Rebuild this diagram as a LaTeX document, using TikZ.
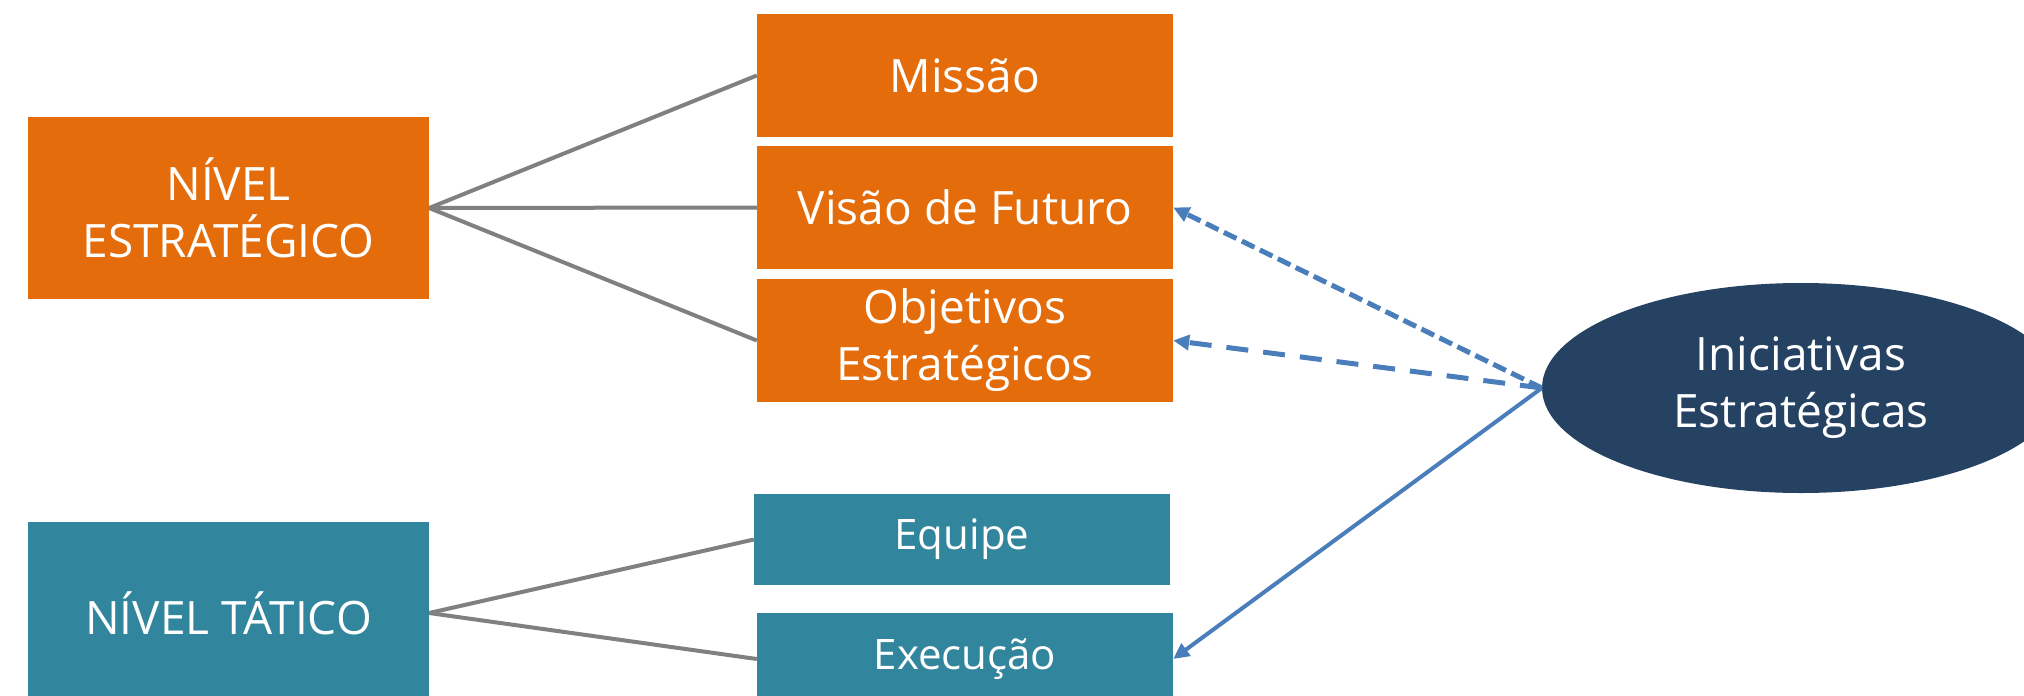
\documentclass[tikz,border=0pt]{standalone}
\usepackage{fontspec}
\setmainfont{Open Sans}
\usetikzlibrary{shapes.geometric,arrows.meta}
\definecolor{orgc}{HTML}{E46C0A}
\definecolor{tealc}{HTML}{31859C}
\definecolor{navyc}{HTML}{264263}
\definecolor{bluec}{HTML}{4A7EBB}
\definecolor{greyc}{HTML}{808080}
\tikzset{
  box/.style={rectangle, inner sep=0pt, text=white, align=center, font=\fontsize{46}{57}\selectfont},
  obox/.style={box, fill=orgc},
  tbox/.style={box, fill=tealc},
  conn/.style={draw=greyc, line width=4pt},
  arr/.style={draw=bluec, -{Triangle[length=16pt,width=15pt]}},
}
\begin{document}
\begin{tikzpicture}[x=1pt,y=-1pt]
\useasboundingbox (0,0) rectangle (2024,696);
\node[obox, minimum width=401pt, minimum height=182pt] (ne) at (228.5,208) {NÍVEL\\ESTRATÉGICO};
\node[obox, minimum width=416pt, minimum height=123pt] (mis) at (965,75.5) {Missão};
\node[obox, minimum width=416pt, minimum height=123pt] (vis) at (965,207.5) {Visão de Futuro};
\node[obox, minimum width=416pt, minimum height=123pt] (obj) at (965,340.5) {Objetivos\\Estratégicos};
\node[tbox, minimum width=401pt, minimum height=182pt] (nt) at (228.5,613) {NÍVEL TÁTICO};
\node[tbox, minimum width=416pt, minimum height=91pt, font=\fontsize{42}{50}\selectfont] (eq) at (962,539.5) {Equipe};
\node[tbox, minimum width=416pt, minimum height=92pt, font=\fontsize{42}{50}\selectfont] (ex) at (965,659) {Execução};
\node[ellipse, fill=navyc, inner sep=0pt, minimum width=518pt, minimum height=210pt, text=white, align=center, font=\fontsize{46}{57}\selectfont] (ell) at (1801,388) {Iniciativas\\Estratégicas};
\draw[conn] (ne.east) -- (mis.west);
\draw[conn] (ne.east) -- (vis.west);
\draw[conn] (ne.east) -- (obj.west);
\draw[conn] (nt.east) -- (eq.west);
\draw[conn] (nt.east) -- (ex.west);
\draw[arr, line width=5pt, dash pattern=on 14pt off 6pt] (ell.west) -- (vis.east);
\draw[arr, line width=5pt, dash pattern=on 22pt off 15pt] (ell.west) -- (obj.east);
\draw[arr, line width=4pt] (ell.west) -- (ex.east);
\end{tikzpicture}
\end{document}
